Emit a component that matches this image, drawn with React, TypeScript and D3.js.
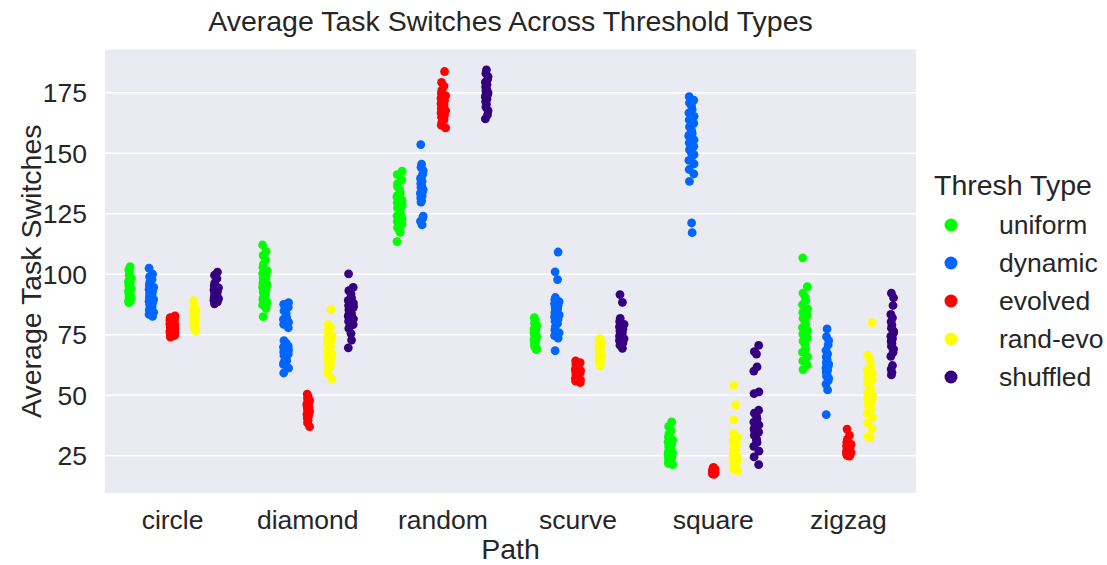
import React from "react";
import * as d3 from "d3";

// categories and hue levels
const paths = ["circle", "diamond", "random", "scurve", "square", "zigzag"];
const threshTypes = ["uniform", "dynamic", "evolved", "rand-evo", "shuffled"];
const palette = ["#00ff00", "#0066ff", "#ff0000", "#ffff00", "#35007f"];
const yTicks = [25, 50, 75, 100, 125, 150, 175];

// values per thresh type, one array per path (same order as `paths`)
const uniform = [
  [103.2, 101.8, 100.9, 99.7, 98.4, 97.9, 97.1, 96.6, 96.0, 95.4, 95.1, 94.3, 93.8, 93.2, 92.7, 92.1, 91.5, 90.9, 90.4, 89.6, 89.1, 88.7, 88.3, 92.9, 95.8],
  [112.1, 109.5, 107.8, 106.0, 104.2, 102.9, 101.5, 100.3, 99.4, 98.7, 97.9, 97.2, 96.5, 95.8, 94.6, 93.9, 92.7, 91.8, 90.5, 89.6, 88.4, 87.3, 85.9, 82.5, 96.1],
  [142.6, 141.2, 139.0, 137.5, 135.1, 133.4, 131.8, 130.6, 129.5, 128.2, 127.4, 126.3, 125.5, 124.1, 122.9, 121.8, 120.6, 119.2, 118.0, 117.3, 113.5, 128.9, 132.5, 123.7, 136.2],
  [82.1, 81.0, 79.8, 78.9, 78.1, 77.4, 76.8, 76.1, 75.5, 74.9, 74.3, 73.7, 73.0, 72.4, 71.6, 70.9, 70.2, 69.3, 68.9, 75.9, 77.9, 72.9],
  [39.0, 37.1, 35.4, 34.0, 32.7, 31.5, 30.6, 29.8, 28.9, 28.1, 27.3, 26.6, 25.9, 25.2, 24.6, 23.9, 23.2, 22.5, 21.8, 21.3, 26.1, 24.2, 22.9],
  [106.8, 94.9, 92.2, 90.6, 89.1, 87.4, 85.7, 84.3, 83.0, 81.8, 80.4, 79.2, 78.0, 76.7, 75.3, 73.8, 72.4, 70.9, 69.3, 67.8, 66.0, 64.2, 62.5, 60.6, 77.5],
];
const dynamic = [
  [102.5, 100.1, 99.0, 97.8, 96.9, 95.7, 94.6, 93.8, 93.0, 92.3, 91.6, 90.9, 90.2, 89.5, 88.8, 88.1, 87.4, 86.6, 85.9, 85.1, 84.3, 83.4, 82.6, 91.1, 89.2],
  [88.3, 87.6, 86.4, 84.9, 83.8, 82.1, 81.4, 80.2, 79.3, 77.9, 72.6, 71.5, 70.8, 69.9, 68.7, 67.9, 67.1, 66.4, 65.5, 64.3, 62.8, 61.2, 59.2, 70.2, 63.6],
  [153.6, 145.5, 144.2, 142.8, 141.3, 139.6, 138.4, 137.5, 136.7, 135.9, 135.0, 134.1, 133.3, 132.4, 131.5, 130.6, 129.8, 124.0, 123.1, 121.9, 120.4, 133.8, 136.3],
  [109.2, 101.0, 97.8, 90.4, 89.5, 88.7, 87.9, 87.1, 86.3, 85.6, 84.9, 84.1, 83.2, 82.4, 81.5, 80.6, 79.7, 78.4, 77.0, 75.8, 74.6, 73.6, 68.4, 86.0],
  [173.4, 172.0, 170.8, 169.6, 168.1, 166.7, 165.3, 163.8, 162.4, 160.9, 159.5, 158.2, 157.0, 155.6, 154.3, 152.9, 151.5, 150.0, 148.7, 147.1, 145.6, 143.3, 141.5, 138.4, 121.2, 117.2, 157.5, 149.5],
  [77.4, 74.2, 72.6, 70.8, 68.5, 67.1, 65.9, 64.8, 63.7, 62.9, 62.1, 61.3, 60.5, 59.6, 58.8, 57.9, 57.0, 56.0, 54.6, 52.2, 42.0, 60.1, 63.2],
];
const evolved = [
  [82.8, 82.1, 81.5, 80.9, 80.4, 80.0, 79.6, 79.1, 78.7, 78.2, 77.8, 77.3, 76.9, 76.4, 75.9, 75.3, 74.7, 74.0, 79.3, 78.0, 81.1, 77.5],
  [50.5, 49.6, 48.7, 47.9, 47.2, 46.5, 45.8, 45.2, 44.6, 44.0, 43.4, 42.8, 42.1, 41.4, 40.6, 39.7, 38.6, 37.0, 44.8, 46.0],
  [183.8, 179.3, 177.8, 176.1, 174.9, 173.8, 172.8, 171.9, 171.0, 170.1, 169.3, 168.4, 167.6, 166.7, 165.8, 164.9, 163.9, 162.8, 161.6, 160.5, 170.5, 168.0],
  [64.2, 63.5, 62.8, 62.1, 61.5, 60.9, 60.3, 59.8, 59.2, 58.6, 58.1, 57.5, 57.0, 56.4, 55.8, 55.2, 60.6, 57.8, 59.5],
  [20.2, 19.8, 19.5, 19.2, 18.9, 18.7, 18.5, 18.3, 18.1, 17.9, 17.7, 17.5, 17.3, 18.8, 19.0, 18.0],
  [36.0, 33.4, 31.8, 30.6, 29.7, 29.0, 28.4, 27.9, 27.5, 27.1, 26.7, 26.3, 25.9, 25.5, 25.1, 24.8, 28.7, 27.0],
];
const randEvo = [
  [89.0, 86.8, 85.8, 85.1, 84.5, 83.9, 83.4, 82.9, 82.4, 81.9, 81.4, 80.9, 80.4, 79.9, 79.4, 78.8, 78.1, 77.3, 76.6, 83.2, 81.6],
  [85.5, 79.2, 78.0, 76.8, 75.6, 74.5, 73.4, 72.3, 71.2, 70.2, 69.1, 68.0, 66.9, 65.8, 64.6, 63.4, 62.1, 60.7, 59.1, 56.8, 71.8, 67.4],
  [],
  [73.4, 72.5, 71.6, 70.8, 70.0, 69.3, 68.6, 67.9, 67.2, 66.5, 65.8, 65.0, 64.2, 63.3, 62.1, 68.2, 66.8],
  [54.1, 46.0, 39.8, 34.2, 32.5, 31.0, 29.6, 28.3, 27.2, 26.2, 25.3, 24.4, 23.6, 22.8, 22.0, 21.2, 20.4, 19.6, 18.8, 24.9, 22.4],
  [80.0, 66.5, 64.8, 62.0, 60.5, 59.1, 57.6, 56.2, 54.9, 53.6, 52.3, 51.1, 50.0, 48.8, 47.6, 46.4, 45.2, 44.0, 42.6, 40.8, 38.6, 36.2, 33.0, 32.5, 49.4],
];
const shuffled = [
  [100.9, 99.6, 98.2, 96.4, 95.3, 94.4, 93.6, 92.9, 92.3, 91.7, 91.1, 90.5, 89.9, 89.3, 88.6, 87.8, 93.9, 90.8],
  [100.2, 94.6, 93.2, 91.8, 90.3, 89.2, 88.1, 87.1, 86.2, 85.3, 84.4, 83.5, 82.6, 81.6, 80.5, 79.2, 77.6, 75.5, 72.8, 69.6, 86.8, 83.0],
  [184.5, 183.0, 181.7, 180.5, 179.4, 178.4, 177.5, 176.6, 175.8, 175.0, 174.2, 173.3, 172.4, 171.4, 170.3, 169.1, 167.6, 165.9, 164.2, 176.1, 173.8],
  [91.6, 88.4, 81.8, 80.5, 79.3, 78.3, 77.4, 76.6, 75.8, 75.0, 74.2, 73.4, 72.6, 71.7, 70.7, 69.4, 77.0, 74.6],
  [70.6, 68.0, 67.0, 61.7, 60.0, 51.4, 50.7, 43.8, 42.6, 41.4, 40.2, 38.9, 37.7, 36.2, 34.8, 33.4, 32.0, 30.5, 28.9, 26.9, 24.5, 21.3, 35.5, 31.3],
  [92.2, 90.3, 87.1, 83.4, 82.0, 80.4, 79.0, 77.7, 76.5, 75.4, 74.4, 73.4, 72.4, 71.4, 70.3, 69.1, 67.7, 66.1, 62.3, 60.8, 59.4, 58.4, 75.9],
];
const seriesByType = [uniform, dynamic, evolved, randEvo, shuffled];

// fixed jitter pattern (-1..1), like seaborn's strip jitter
const jitterPattern = [0.3, -0.7, 0.9, -0.2, 0.6, -0.9, 0.1, -0.5, 0.8, -0.1, 0.4, -0.8, 0.7, -0.4, 0.0, 0.5, -0.6, 0.2, -0.3, 1.0, -1.0];

const font = "'Liberation Sans', Arial, sans-serif";

export default function App() {
  const width = 1107;
  const height = 565;
  const left = 105, right = 916, top = 49.5, bottom = 493;

  const x = d3.scaleBand().domain(paths).range([left, right]).padding(0);
  const bw = x.bandwidth();
  const hue = d3.scaleBand().domain(threshTypes).range([-0.4 * bw, 0.4 * bw]);
  const y = d3.scaleLinear().domain([9.6, 192.9]).range([bottom, top]);
  const jitterPx = 0.02 * bw;

  return (
    <svg width={width} height={height} style={{ position: "absolute", left: 0, top: 0, background: "#fff" }} fontFamily={font}>
      <rect x={left} y={top} width={right - left} height={bottom - top} fill="#eaeaf2" />
      {yTicks.map((t) => (
        <line key={t} x1={left} x2={right} y1={y(t)} y2={y(t)} stroke="#fff" strokeWidth={1.6} />
      ))}
      {threshTypes.map((t, h) =>
        paths.map((p, c) =>
          seriesByType[h][c].map((v, i) => (
            <circle
              key={`${t}-${p}-${i}`}
              cx={x(p)! + bw / 2 + hue(t)! + hue.bandwidth() / 2 + jitterPattern[(i * 3 + c + h) % jitterPattern.length] * jitterPx}
              cy={y(v)}
              r={4.4}
              fill={palette[h]}
            />
          ))
        )
      )}
      {yTicks.map((t) => (
        <text key={t} x={left - 18} y={y(t)} dy="0.35em" textAnchor="end" fontSize={26.5} fill="#262626">{t}</text>
      ))}
      {paths.map((p) => (
        <text key={p} x={x(p)! + bw / 2} y={529} textAnchor="middle" fontSize={26.5} fill="#262626">{p}</text>
      ))}
      <text x={(left + right) / 2} y={559} textAnchor="middle" fontSize={28.5} fill="#262626">Path</text>
      <text transform={`translate(41,${(top + bottom) / 2}) rotate(-90)`} textAnchor="middle" fontSize={28.5} fill="#262626">Average Task Switches</text>
      <text x={(left + right) / 2} y={31} textAnchor="middle" fontSize={28.5} fill="#262626">Average Task Switches Across Threshold Types</text>
      <text x={934} y={195} fontSize={28.5} fill="#262626">Thresh Type</text>
      {threshTypes.map((t, h) => (
        <g key={t} transform={`translate(0,${225 + h * 38})`}>
          <circle cx={951} cy={0} r={6.5} fill={palette[h]} />
          <text x={999} y={0} dy="0.35em" fontSize={26.5} fill="#262626">{t}</text>
        </g>
      ))}
    </svg>
  );
}
